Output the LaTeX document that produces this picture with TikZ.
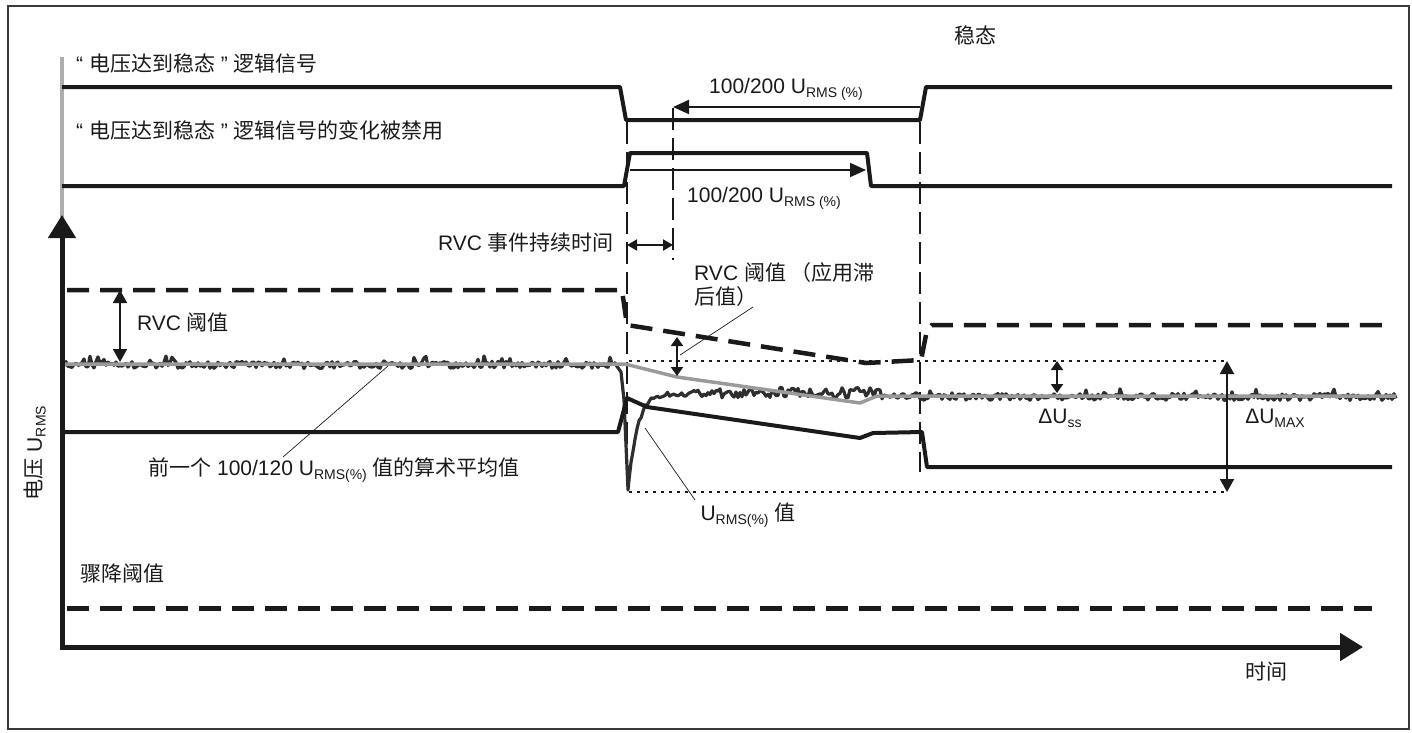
\documentclass[tikz,border=0pt]{standalone}
\usepackage{fontspec}
\setmainfont{Liberation Sans}
\newfontfamily\cjk{Noto Sans CJK SC}
\usetikzlibrary{arrows.meta}
\newcommand\zh[1]{{\cjk #1}}
\newcommand\lowsub[1]{\raisebox{-0.35ex}{\fontsize{14pt}{14pt}\selectfont #1}}
\definecolor{ink}{HTML}{1A1A1A}
\definecolor{noisec}{HTML}{2E2E2E}
\definecolor{meanc}{HTML}{9A9A9A}
\definecolor{framec}{HTML}{3A3A3A}
\begin{document}
\begin{tikzpicture}[x=1pt,y=-1pt,
  lbl/.style={font=\fontsize{21pt}{25pt}\selectfont, inner sep=0pt, text=ink},
  sig/.style={line width=4pt, ink, line join=round},
  thr/.style={line width=4pt, ink, line join=round},
  thrdash/.style={line width=4.5pt, ink, dash pattern=on 22pt off 11pt},
  marker/.style={line width=2.5pt, ink, dash pattern=on 22pt off 8pt},
  dotline/.style={line width=2.5pt, ink, dash pattern=on 2.5pt off 5.5pt},
  noise/.style={line width=3.2pt, noisec, line join=round},
  meanl/.style={line width=3.5pt, meanc, line join=round},
  leader/.style={line width=0.7pt, ink},
  dbl/.style={line width=2pt, ink, {Triangle[length=13pt,width=14pt]}-{Triangle[length=13pt,width=14pt]}},
  sdbl/.style={line width=2pt, ink, {Triangle[length=9pt,width=12pt]}-{Triangle[length=9pt,width=12pt]}},
  sgl/.style={line width=2pt, ink, -{Triangle[length=16pt,width=14pt]}},
  axisl/.style={line width=5pt, ink, -{Triangle[length=23pt,width=27pt]}}
]
\useasboundingbox (0,0) rectangle (1412,732);
\pgfmathsetseed{7}
% frame
\draw[framec, line width=2pt] (8,6) rectangle (1409,729);

% gray line behind y axis
\draw[line width=4pt, meanc!80] (62,57) -- (62,240);

% logic signal 1
\draw[sig] (62,87) -- (620,87) -- (626,120) -- (920,120) -- (926,87) -- (1392,87);
% logic signal 2
\draw[sig] (62,186) -- (624,186) -- (630,153) -- (867,153) -- (871,186) -- (1392,186);

% event markers
\draw[marker] (627,122) -- (627,445);
\draw[marker] (673,108) -- (673,260);
\draw[marker] (920,122) -- (920,472);

% timing arrows
\coordinate (t1a) at (920,107);
\coordinate (t1b) at (673,107);
\draw[sgl] (t1a) -- (t1b);
\coordinate (t2a) at (630,170);
\coordinate (t2b) at (866,170);
\draw[sgl] (t2a) -- (t2b);
\coordinate (d1) at (627,245);
\coordinate (d2) at (673,245);
\draw[line width=2pt, ink, {Triangle[length=10pt,width=11pt]}-{Triangle[length=10pt,width=11pt]}] (d1) -- (d2);

% upper RVC threshold (dashed)
\draw[thrdash] (67,290) -- (622,290) -- (627,325) -- (866,363) -- (921,360) -- (927,330) -- (932,325) -- (1385,325);

% dotted reference lines
\draw[dotline] (629,361) -- (1227,361);
\draw[dotline] (629,492) -- (1227,492);

% noisy URMS(%) signal
\draw[noise] plot[domain=64:616, samples=277] (\x,{365+3.5*rand-6*(rnd>0.9)});
\draw[noise] (616,365) -- (621,372) -- (624,400) -- (628,490)
  -- plot[domain=629:700, samples=36] (\x,{393+97*exp(-(\x-628)/9)+3*rand})
  -- plot[domain=702:880, samples=90] (\x,{393+5.5*rand})
  -- plot[domain=882:1396, samples=258] (\x,{397+3.5*rand-5*(rnd>0.9)});

% mean value line
\draw[meanl] (64,364) -- (625,364) -- (677,377) -- (860,403) -- (877,396) -- (1396,396);

% lower RVC threshold (solid)
\draw[thr] (62,432) -- (618,432) -- (627,398) -- (647,407) -- (860,438) -- (873,433) -- (922,432) -- (927,467) -- (1392,467);

% sag threshold
\draw[thrdash, line width=5pt] (67,608) -- (1372,608);

% axes
\coordinate (O) at (62,647);
\coordinate (ytip) at (62,215);
\coordinate (xtip) at (1363,647);
\draw[axisl] (62,649.5) -- (ytip);
\draw[axisl] (O) -- (xtip);

% threshold arrows
\coordinate (r1a) at (120,290);
\coordinate (r1b) at (120,362);
\draw[dbl] (r1a) -- (r1b);
\coordinate (r2a) at (677,337);
\coordinate (r2b) at (677,376);
\draw[sdbl] (r2a) -- (r2b);
\coordinate (s1a) at (1057,361);
\coordinate (s1b) at (1057,393);
\draw[sdbl] (s1a) -- (s1b);
\coordinate (m1a) at (1227,361);
\coordinate (m1b) at (1227,492);
\draw[dbl] (m1a) -- (m1b);

% labels
\node[lbl] (steady) at (975,35) {\zh{稳态}};
\node[lbl, anchor=west] (sig1lbl) at (76,63) {“ \zh{电压达到稳态} ” \zh{逻辑信号}};
\node[lbl, anchor=west] (sig2lbl) at (76,130) {“ \zh{电压达到稳态} ” \zh{逻辑信号的变化被禁用}};
\node[lbl] (top100) at (786,89) {100/200 U\lowsub{RMS (\%)}};
\node[lbl] (bot100) at (764,198) {100/200 U\lowsub{RMS (\%)}};
\node[lbl, anchor=east] (dur) at (614,243) {RVC \zh{事件持续时间}};
\node[lbl, anchor=west] (rvcl) at (137,322) {RVC \zh{阈值}};
\node[lbl, anchor=west, align=left, font=\fontsize{21pt}{24pt}\selectfont] (rvch) at (694,285) {RVC \zh{阈值 （应用滞}\\\zh{后值）}};
\node[lbl] (mean) at (334,470) {\zh{前一个} 100/120 U\lowsub{RMS(\%)} \zh{值的算术平均值}};
\node[lbl] (urms) at (748,515) {U\lowsub{RMS(\%)} \zh{值}};
\node[lbl] (dss) at (1060,418) {ΔU\lowsub{ss}};
\node[lbl] (dmax) at (1275,418) {ΔU\lowsub{MAX}};
\node[lbl, anchor=west] (sag) at (80,573) {\zh{骤降阈值}};
\node[lbl] (time) at (1266,672) {\zh{时间}};
\node[lbl, rotate=90] (ylab) at (35,453) {\zh{电压} U\lowsub{RMS}};

% leader lines
\coordinate (lm1) at (388,366);
\coordinate (lm2) at (283,457);
\draw[leader] (lm1) -- (lm2);
\coordinate (lh1) at (753,307);
\coordinate (lh2) at (680,355);
\draw[leader] (lh1) -- (lh2);
\coordinate (lu1) at (645,428);
\coordinate (lu2) at (695,500);
\draw[leader] (lu1) -- (lu2);
\end{tikzpicture}
\end{document}
